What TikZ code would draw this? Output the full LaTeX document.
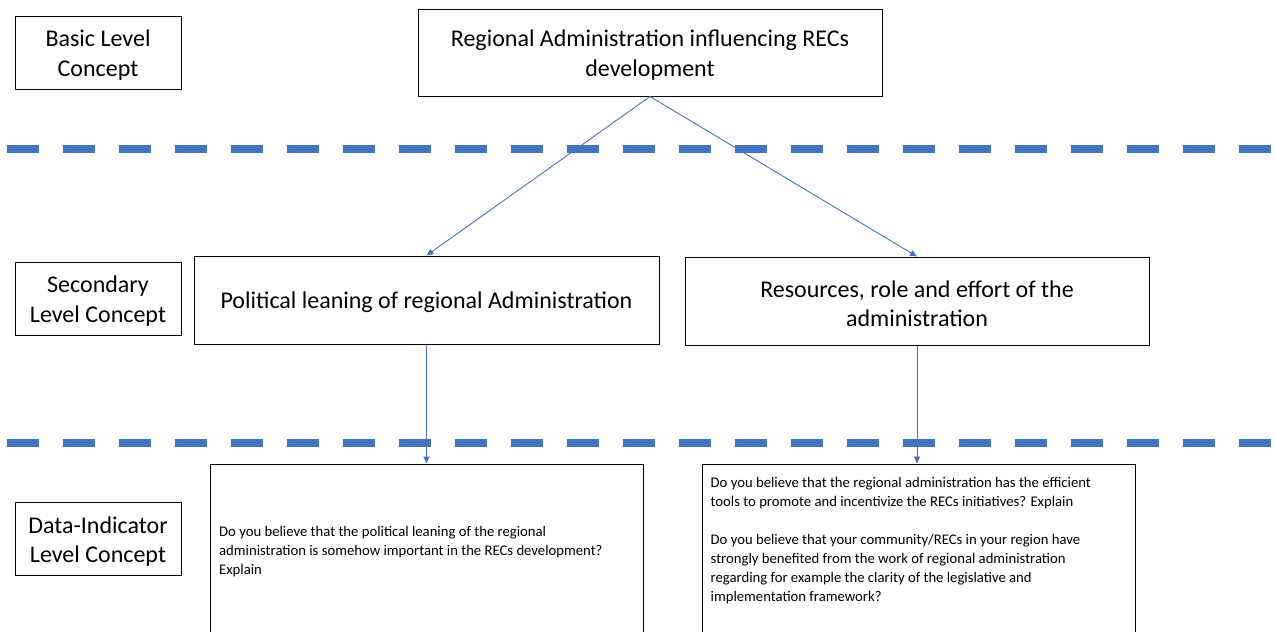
\documentclass[tikz,border=0pt]{standalone}
\usepackage{fontspec}
\setmainfont{Carlito}
\usetikzlibrary{arrows.meta}
\definecolor{accent}{HTML}{4472C4}
% tall invisible strut that sits the first line of large text a little lower
\newcommand{\toppad}{\rule{0pt}{22pt}}
\begin{document}
\begin{tikzpicture}[x=1pt,y=-1pt,
  box/.style={draw=black, line width=1pt, fill=white, inner sep=0pt},
  big/.style={font=\fontsize{24}{29.5}\selectfont, align=center},
  small/.style={font=\fontsize{14.7}{19}\selectfont, align=left, inner sep=0pt},
  level/.style={box, big, minimum width=166pt, minimum height=73pt},
  concept/.style={box, big, minimum width=465pt, minimum height=88pt},
  question/.style={box, minimum width=433pt, minimum height=172pt},
  link/.style={draw=accent, line width=0.9pt, -{Triangle[length=7pt,width=6pt]}},
  divider/.style={draw=accent, line width=8pt, dash pattern=on 32pt off 24pt}
]
\useasboundingbox (0,0) rectangle (1275,632);
\clip (0,0) rectangle (1275,632);
\fill[white] (0,0) rectangle (1275,632);

% level separators
\draw[divider] (7,149) -- (1290,149);
\draw[divider] (7,443) -- (1290,443);

% level labels
\node[level] (lbasic) at (98,52.5) {\toppad Basic Level\\Concept};
\node[level] (lsec) at (98,298.5) {\toppad Secondary\\Level Concept};
\node[level] (ldata) at (98,539) {\toppad Data-Indicator\\Level Concept};

% concepts
\node[concept, minimum width=464pt, minimum height=87pt] (top) at (650,52.5)
  {\toppad Regional Administration influencing RECs\\development};
\node[concept] (pol) at (426.5,300) {\toppad Political leaning of regional Administration};
\node[concept, minimum width=464pt] (res) at (917,301)
  {\toppad Resources, role and effort of the\\administration};

% indicator boxes
\node[question] (q1) at (426.5,550) {};
\node[question] (q2) at (918.5,550) {};
\node[small, anchor=west] (q1t) at (219,552)
  {Do you believe that the political leaning of the regional\\
   administration is somehow important in the RECs development?\\
   Explain};
\node[small, anchor=north west] (q2t) at (710.5,477)
  {Do you believe that the regional administration has the efficient\\
   tools to promote and incentivize the RECs initiatives? Explain\\[19pt]
   Do you believe that your community/RECs in your region have\\
   strongly benefited from the work of regional administration\\
   regarding for example the clarity of the legislative and\\
   implementation framework?};

% connectors
\draw[link] (top.south) -- (pol.north);
\draw[link] (top.south) -- (res.north);
\draw[link] (pol.south) -- (pol.south |- q1.north);
\draw[link] (res.south) -- (res.south |- q2.north);
\end{tikzpicture}
\end{document}
